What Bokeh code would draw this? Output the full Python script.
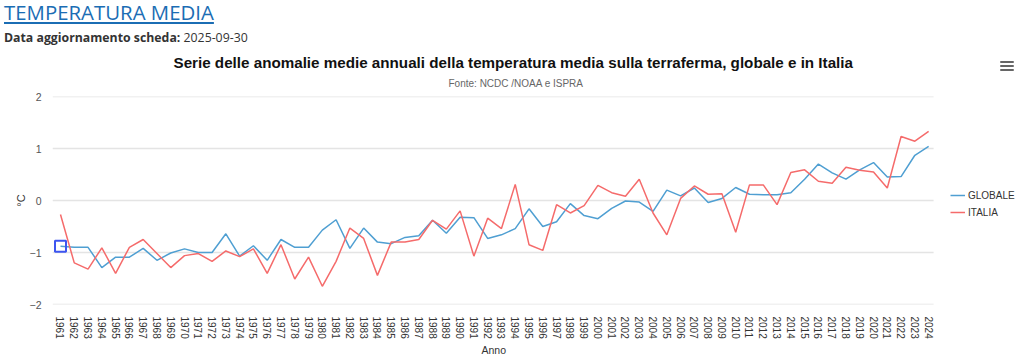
import math
from bokeh.plotting import figure
from bokeh.models import (Div, Title, Legend, LegendItem, FixedTicker, ColumnDataSource, Range1d)
from bokeh.layouts import column
from bokeh.embed import file_html
from bokeh.resources import INLINE

# ---- data ----
years = list(range(1961, 2025))
globale = [-0.88, -0.90, -0.90, -1.29, -1.09, -1.09, -0.92, -1.15, -1.01, -0.93,
           -1.00, -1.00, -0.64, -1.07, -0.87, -1.15, -0.75, -0.90, -0.90, -0.57,
           -0.37, -0.92, -0.53, -0.80, -0.83, -0.71, -0.68, -0.38, -0.63, -0.32,
           -0.33, -0.73, -0.66, -0.54, -0.16, -0.50, -0.41, -0.06, -0.29, -0.35,
           -0.15, -0.01, -0.03, -0.21, 0.20, 0.09, 0.24, -0.04, 0.04, 0.25,
           0.12, 0.11, 0.11, 0.15, 0.41, 0.70, 0.53, 0.41, 0.59, 0.73,
           0.45, 0.46, 0.87, 1.04]
italia = [-0.27, -1.20, -1.32, -0.91, -1.40, -0.90, -0.75, -1.02, -1.29, -1.06,
          -1.02, -1.17, -0.97, -1.08, -0.93, -1.40, -0.85, -1.51, -1.09, -1.65,
          -1.17, -0.53, -0.73, -1.44, -0.80, -0.80, -0.75, -0.38, -0.55, -0.20,
          -1.07, -0.34, -0.54, 0.31, -0.85, -0.96, -0.08, -0.24, -0.10, 0.29,
          0.15, 0.08, 0.41, -0.24, -0.66, 0.04, 0.28, 0.12, 0.13, -0.61,
          0.30, 0.30, -0.08, 0.54, 0.59, 0.37, 0.33, 0.64, 0.58, 0.55,
          0.24, 1.23, 1.14, 1.33]
y_ticks = [-2, -1, 0, 1, 2]
series_names = ["GLOBALE", "ITALIA"]

heading = "TEMPERATURA MEDIA"
update_label = "Data aggiornamento scheda:"
update_date = "2025-09-30"
chart_title = "Serie delle anomalie medie annuali della temperatura media sulla terraferma, globale e in Italia"
chart_subtitle = "Fonte: NCDC /NOAA e ISPRA"
x_title = "Anno"
y_title = "°C"

BLUE = "#4f9fd2"
RED = "#f56b6b"

FIG_W = 1016
BORDER_L = 52
# plotting area: some padding before the first year and after the last
X_START = years[0] - 0.58
X_END = years[-1] + 0.36
PX_PER_YEAR = 13.78
X_VIEW_END = X_START + (FIG_W - BORDER_L) / PX_PER_YEAR   # room on the right for the legend

menu_bar = ('<div style="position:absolute;left:996px;top:{t}px;width:14px;height:2px;'
            'border-radius:1px;background:#666666;"></div>')
header = Div(
    text=(
        '<div style="position:absolute;top:-6px;left:-1px;width:1010px;height:0;'
        'font-family:\'Open Sans\',sans-serif;z-index:10;">'
        f'<div style="font-size:20.4px;line-height:26px;color:#1b6db4;text-decoration:underline;'
        f'text-underline-offset:2px;white-space:nowrap;">{heading}</div>'
        f'<div style="font-size:12.3px;line-height:16px;color:#333;margin-top:5px;white-space:nowrap;">'
        f'<b>{update_label}</b> {update_date}</div>'
        + menu_bar.format(t=62) + menu_bar.format(t=66) + menu_bar.format(t=70)
        + '</div>'
    ),
    width=1008, height=31, styles={"overflow": "visible", "z-index": "10"},
)

src = ColumnDataSource(dict(year=years, globale=globale, italia=italia))

p = figure(width=FIG_W, height=314, output_backend="svg", toolbar_location=None,
           title=None, x_range=Range1d(X_START, X_VIEW_END), y_range=Range1d(-2, 2),
           min_border_left=BORDER_L, min_border_right=0, min_border_top=55,
           min_border_bottom=48)
p.outline_line_color = None
p.background_fill_color = "white"
p.border_fill_color = None

sub = Title(text=chart_subtitle, align="left", offset=396, text_font="Liberation Sans",
            text_font_size="10px", text_font_style="normal", text_color="#666666", standoff=16)
main = Title(text=chart_title, align="left", offset=121, text_font="Liberation Sans",
             text_font_size="15.2px", text_font_style="bold", text_color="#111111", standoff=-7)
p.add_layout(sub, "above")
p.add_layout(main, "above")

# horizontal grid lines limited to the plotting area
p.segment(x0=[X_START] * len(y_ticks), x1=[X_END] * len(y_ticks), y0=y_ticks, y1=y_ticks,
          line_color="#e4e4e4", line_width=1.5)

r1 = p.line("year", "globale", source=src, line_color=BLUE, line_width=1.5)
r2 = p.line("year", "italia", source=src, line_color=RED, line_width=1.5)
p.scatter(x=[years[0]], y=[globale[0]], marker="square", size=11, fill_alpha=0,
          line_color="#3d55f0", line_width=2)

p.xgrid.visible = False
p.ygrid.visible = False

p.xaxis.ticker = FixedTicker(ticks=years)
p.xaxis.major_label_orientation = -math.pi / 2
p.xaxis.major_label_text_font = "Liberation Sans"
p.xaxis.major_label_text_font_size = "10px"
p.xaxis.major_label_text_color = "#333333"
p.xaxis.major_label_standoff = 12

x_lab = Title(text=x_title, align="left", offset=429, text_font="Liberation Sans",
              text_font_size="10.5px", text_font_style="normal", text_color="#333333",
              standoff=0)
p.add_layout(x_lab, "below")

p.yaxis.ticker = FixedTicker(ticks=y_ticks)
p.yaxis.major_label_text_font = "Liberation Sans"
p.yaxis.major_label_text_font_size = "10.5px"
p.yaxis.major_label_text_color = "#555555"
p.yaxis.major_label_standoff = 11
p.yaxis.axis_label = y_title
p.yaxis.axis_label_text_font = "Liberation Sans"
p.yaxis.axis_label_text_font_size = "11px"
p.yaxis.axis_label_text_font_style = "normal"
p.yaxis.axis_label_text_color = "#333333"
p.yaxis.axis_label_standoff = 0

for ax in (p.xaxis, p.yaxis):
    ax.axis_line_color = None
    ax.major_tick_line_color = None
    ax.minor_tick_line_color = None
    ax.major_tick_out = 0
    ax.major_tick_in = 0
    ax.minor_tick_out = 0
    ax.minor_tick_in = 0

legend = Legend(items=[LegendItem(label=series_names[0], renderers=[r1]),
                       LegendItem(label=series_names[1], renderers=[r2])],
                location=(898, 85), orientation="vertical",
                label_text_font="Liberation Sans", label_text_font_size="10px",
                label_text_color="#333333", glyph_width=15, glyph_height=14,
                label_height=14, spacing=3, label_standoff=3, padding=0, margin=0,
                border_line_color=None, background_fill_alpha=0)
p.add_layout(legend, "center")

layout = column(header, p, spacing=0)
open("out.html", "w").write(file_html(layout, INLINE))
